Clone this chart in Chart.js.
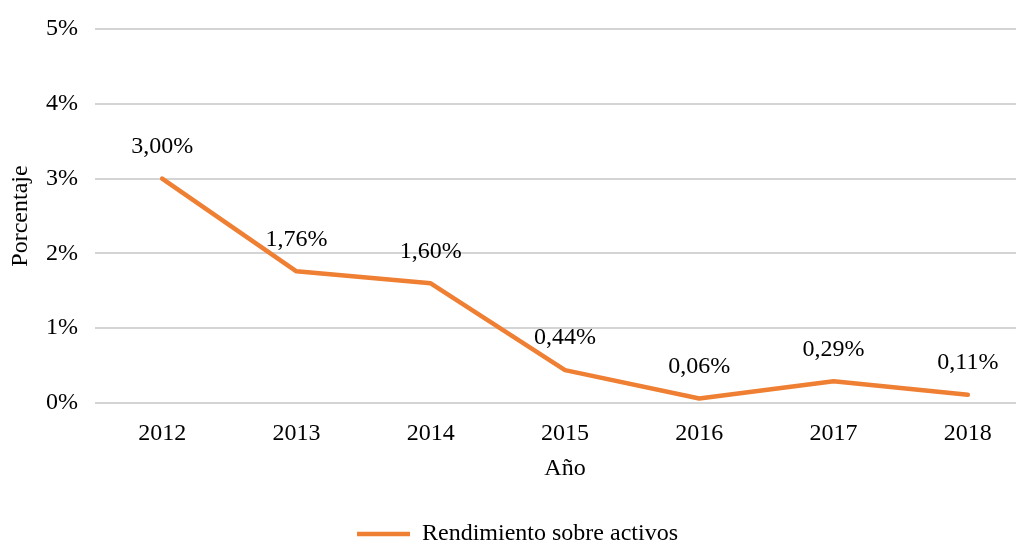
<!DOCTYPE html>
<html>
<head>
<meta charset="utf-8">
<script src="https://cdn.jsdelivr.net/npm/chart.js@4"></script>
<style>
  html, body { margin: 0; padding: 0; background: #fff; overflow: hidden; }
  #wrap { position: relative; width: 1040px; height: 544px; }
</style>
</head>
<body>
<div id="wrap"><canvas id="roaChart"></canvas></div>
<script>
// Chart values
const years = ['2012', '2013', '2014', '2015', '2016', '2017', '2018'];
const roaValues = [3.00, 1.76, 1.60, 0.44, 0.06, 0.29, 0.11];
const seriesName = 'Rendimiento sobre activos';
const yTitle = 'Porcentaje';
const xTitle = 'Año';

const FONT = '"Liberation Serif", "Times New Roman", serif';
const ORANGE = '#EE7F33';

// Draws the value above each point, e.g. "3,00%"
const valueLabels = {
    id: 'valueLabels',
    afterDatasetsDraw(chart) {
        const ctx = chart.ctx;
        const meta = chart.getDatasetMeta(0);
        ctx.save();
        ctx.font = '24px ' + FONT;
        ctx.fillStyle = '#000';
        ctx.textAlign = 'center';
        ctx.textBaseline = 'middle';
        meta.data.forEach((pt, i) => {
            const txt = roaValues[i].toFixed(2).replace('.', ',') + '%';
            ctx.fillText(txt, pt.x, pt.y - 32);
        });
        ctx.restore();
    }
};

new Chart(document.getElementById('roaChart'), {
    type: 'line',
    data: {
        labels: years,
        datasets: [{
            label: seriesName,
            data: roaValues,
            borderColor: ORANGE,
            backgroundColor: ORANGE,
            borderWidth: 4.5,
            borderCapStyle: 'round',
            borderJoinStyle: 'round',
            pointRadius: 0,
            pointStyle: 'line',
            tension: 0
        }]
    },
    options: {
        responsive: true,
        maintainAspectRatio: false,
        animation: false,
        layout: { padding: { left: 0, right: 5, top: 0, bottom: -12 } },
        scales: {
            x: {
                offset: true,
                grid: { display: false, drawTicks: false },
                border: { display: false },
                ticks: { color: '#000', font: { family: FONT, size: 24 }, padding: 16 },
                title: { display: true, text: xTitle, color: '#000', font: { family: FONT, size: 24 }, padding: { top: 0, bottom: 37 } },
                afterFit(scale) { scale.height = 117; }
            },
            y: {
                min: 0,
                max: 5,
                grid: { color: '#d4d4d4', lineWidth: 2, drawTicks: false },
                border: { display: false },
                ticks: {
                    stepSize: 1,
                    color: '#000',
                    font: { family: FONT, size: 24, lineHeight: 1.0 },
                    padding: 17,
                    callback: v => v + '%'
                },
                title: { display: true, text: yTitle, color: '#000', font: { family: FONT, size: 24 }, padding: { top: 6, bottom: 0 } },
                afterFit(scale) { scale.width = 95; }
            }
        },
        plugins: {
            legend: {
                position: 'bottom',
                labels: {
                    color: '#000',
                    font: { family: FONT, size: 24 },
                    usePointStyle: true,
                    pointStyle: 'line',
                    pointStyleWidth: 53,
                    boxHeight: 5,
                    padding: 2
                }
            },
            tooltip: { enabled: false }
        }
    },
    plugins: [valueLabels]
});
</script>
</body>
</html>
